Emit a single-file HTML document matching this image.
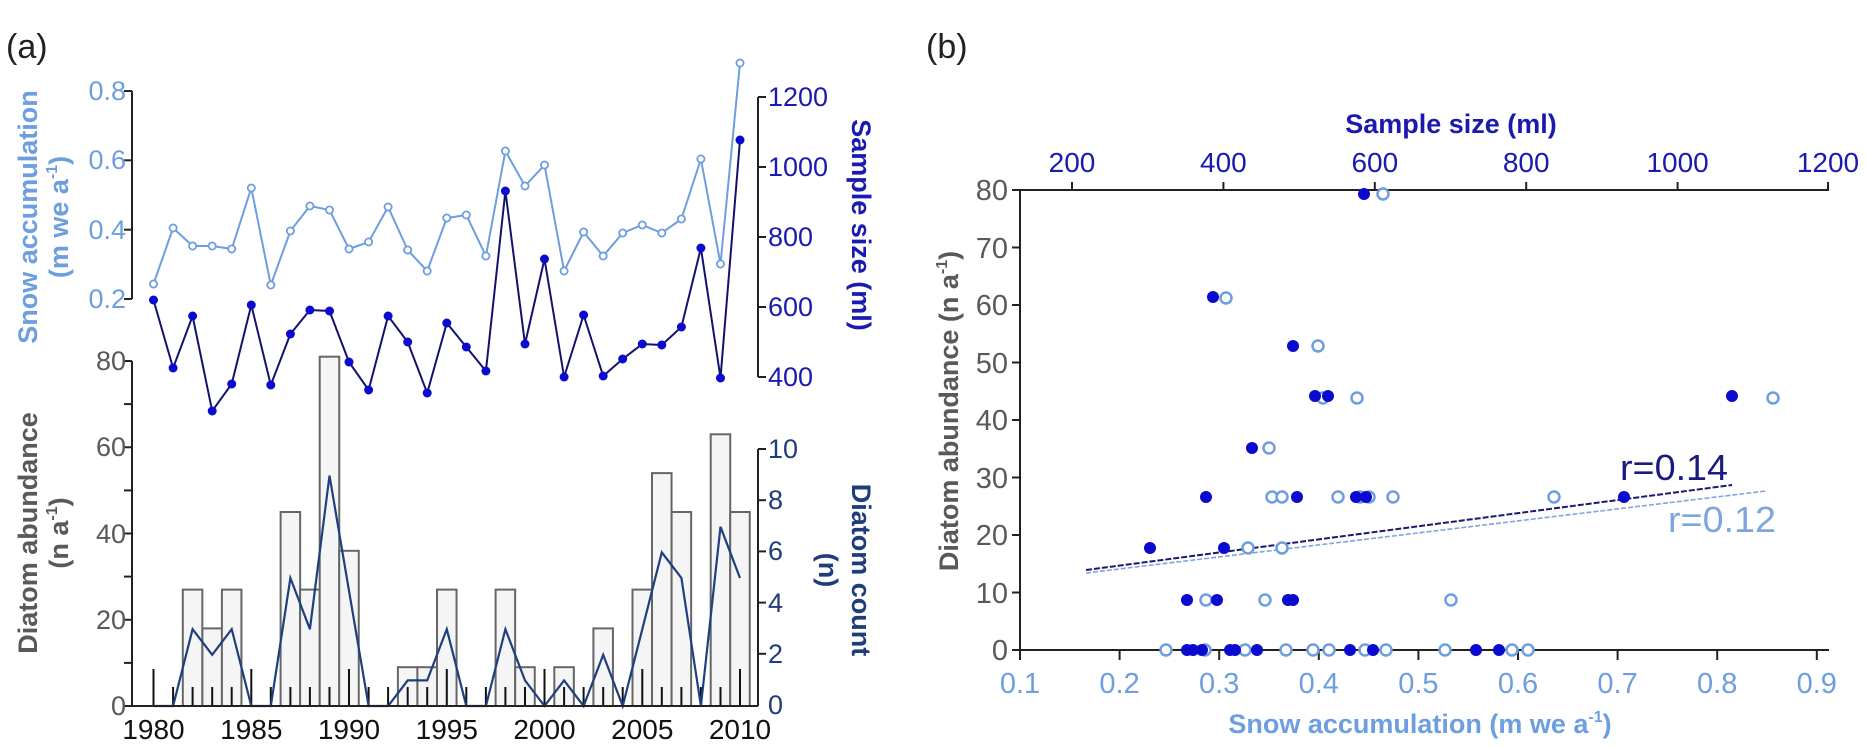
<!DOCTYPE html>
<html><head><meta charset="utf-8"><style>
html,body{margin:0;padding:0;background:#fff}
svg{display:block}
text{font-family:"Liberation Sans",sans-serif}
</style></head><body>
<svg width="1866" height="748" viewBox="0 0 1866 748" xmlns="http://www.w3.org/2000/svg">
<rect width="1866" height="748" fill="#fff"/>
<text x="6" y="58" font-size="34" fill="#222">(a)</text>
<text x="926" y="58" font-size="34" fill="#222">(b)</text>

<g fill="#f5f5f5" stroke="#666" stroke-width="2">
<rect x="182.8" y="589.6" width="19.55" height="116.4"/>
<rect x="202.4" y="628.4" width="19.55" height="77.6"/>
<rect x="221.9" y="589.6" width="19.55" height="116.4"/>
<rect x="280.6" y="512" width="19.55" height="194"/>
<rect x="300.1" y="589.6" width="19.55" height="116.4"/>
<rect x="319.7" y="356.7" width="19.55" height="349.3"/>
<rect x="339.2" y="550.8" width="19.55" height="155.2"/>
<rect x="397.9" y="667.2" width="19.55" height="38.8"/>
<rect x="417.4" y="667.2" width="19.55" height="38.8"/>
<rect x="437.0" y="589.6" width="19.55" height="116.4"/>
<rect x="495.6" y="589.6" width="19.55" height="116.4"/>
<rect x="515.2" y="667.2" width="19.55" height="38.8"/>
<rect x="554.3" y="667.2" width="19.55" height="38.8"/>
<rect x="593.4" y="628.4" width="19.55" height="77.6"/>
<rect x="632.5" y="589.6" width="19.55" height="116.4"/>
<rect x="652.0" y="473.1" width="19.55" height="232.9"/>
<rect x="671.6" y="512" width="19.55" height="194"/>
<rect x="710.7" y="434.3" width="19.55" height="271.7"/>
<rect x="730.2" y="512" width="19.55" height="194"/>
</g>
<g stroke="#111" stroke-width="2">
<line x1="153.5" y1="706" x2="153.5" y2="669"/><line x1="173.1" y1="706" x2="173.1" y2="687"/><line x1="192.6" y1="706" x2="192.6" y2="687"/><line x1="212.2" y1="706" x2="212.2" y2="687"/><line x1="231.7" y1="706" x2="231.7" y2="687"/>
<line x1="251.3" y1="706" x2="251.3" y2="669"/><line x1="270.8" y1="706" x2="270.8" y2="687"/><line x1="290.4" y1="706" x2="290.4" y2="687"/><line x1="309.9" y1="706" x2="309.9" y2="687"/><line x1="329.5" y1="706" x2="329.5" y2="687"/>
<line x1="349.0" y1="706" x2="349.0" y2="669"/><line x1="368.6" y1="706" x2="368.6" y2="687"/><line x1="388.1" y1="706" x2="388.1" y2="687"/><line x1="407.7" y1="706" x2="407.7" y2="687"/><line x1="427.2" y1="706" x2="427.2" y2="687"/>
<line x1="446.8" y1="706" x2="446.8" y2="669"/><line x1="466.3" y1="706" x2="466.3" y2="687"/><line x1="485.9" y1="706" x2="485.9" y2="687"/><line x1="505.4" y1="706" x2="505.4" y2="687"/><line x1="525.0" y1="706" x2="525.0" y2="687"/>
<line x1="544.5" y1="706" x2="544.5" y2="669"/><line x1="564.1" y1="706" x2="564.1" y2="687"/><line x1="583.6" y1="706" x2="583.6" y2="687"/><line x1="603.2" y1="706" x2="603.2" y2="687"/><line x1="622.7" y1="706" x2="622.7" y2="687"/>
<line x1="642.3" y1="706" x2="642.3" y2="669"/><line x1="661.8" y1="706" x2="661.8" y2="687"/><line x1="681.4" y1="706" x2="681.4" y2="687"/><line x1="700.9" y1="706" x2="700.9" y2="687"/><line x1="720.5" y1="706" x2="720.5" y2="687"/>
<line x1="740.0" y1="706" x2="740.0" y2="669"/>
</g>
<polyline fill="none" stroke="#1f3f7f" stroke-width="2.2" points="153.5,706 173.1,706 192.6,629.2 212.2,654.8 231.7,629.2 251.3,706 270.8,706 290.4,578 309.9,629.2 329.5,475.6 349.0,590.8 368.6,706 388.1,706 407.7,680.4 427.2,680.4 446.8,629.2 466.3,706 485.9,706 505.4,629.2 525.0,680.4 544.5,706 564.1,680.4 583.6,706 603.2,654.8 622.7,706 642.3,629.2 661.8,552.4 681.4,578 700.9,706 720.5,526.8 740.0,578"/>

<g stroke="#222" stroke-width="2" fill="none">
<line x1="132" y1="706" x2="758" y2="706"/>
<line x1="132" y1="361" x2="132" y2="706"/>
<line x1="132" y1="91" x2="132" y2="299"/>
<line x1="758" y1="97" x2="758" y2="377"/>
<line x1="758" y1="449" x2="758" y2="706"/>
<line x1="124" y1="706" x2="132" y2="706"/><line x1="124" y1="662.9" x2="132" y2="662.9"/><line x1="124" y1="619.75" x2="132" y2="619.75"/><line x1="124" y1="576.6" x2="132" y2="576.6"/><line x1="124" y1="533.5" x2="132" y2="533.5"/><line x1="124" y1="490.4" x2="132" y2="490.4"/><line x1="124" y1="447.25" x2="132" y2="447.25"/><line x1="124" y1="404.1" x2="132" y2="404.1"/><line x1="124" y1="361" x2="132" y2="361"/>
<line x1="124" y1="91" x2="132" y2="91"/><line x1="124" y1="160.3" x2="132" y2="160.3"/><line x1="124" y1="229.7" x2="132" y2="229.7"/><line x1="124" y1="299" x2="132" y2="299"/>
<line x1="758" y1="97" x2="766" y2="97"/><line x1="758" y1="167" x2="766" y2="167"/><line x1="758" y1="237" x2="766" y2="237"/><line x1="758" y1="307" x2="766" y2="307"/><line x1="758" y1="377" x2="766" y2="377"/>
<line x1="758" y1="449" x2="766" y2="449"/><line x1="758" y1="500.2" x2="766" y2="500.2"/><line x1="758" y1="551.4" x2="766" y2="551.4"/><line x1="758" y1="602.6" x2="766" y2="602.6"/><line x1="758" y1="653.8" x2="766" y2="653.8"/>
</g>

<polyline fill="none" stroke="#6d9ee0" stroke-width="2" points="153.5,284 173.1,228 192.6,246 212.2,246 231.7,249 251.3,188 270.8,285 290.4,231 309.9,206 329.5,210 349.0,249 368.6,242 388.1,207 407.7,250 427.2,271 446.8,218 466.3,215 485.9,256 505.4,151 525.0,186 544.5,165 564.1,271 583.6,232 603.2,256 622.7,233 642.3,225 661.8,233 681.4,219 700.9,159 720.5,264 740.0,63"/>
<g fill="#fff" stroke="#6d9ee0" stroke-width="1.8">
<circle cx="153.5" cy="284" r="3.6"/><circle cx="173.1" cy="228" r="3.6"/><circle cx="192.6" cy="246" r="3.6"/><circle cx="212.2" cy="246" r="3.6"/><circle cx="231.7" cy="249" r="3.6"/><circle cx="251.3" cy="188" r="3.6"/><circle cx="270.8" cy="285" r="3.6"/><circle cx="290.4" cy="231" r="3.6"/><circle cx="309.9" cy="206" r="3.6"/><circle cx="329.5" cy="210" r="3.6"/><circle cx="349.0" cy="249" r="3.6"/><circle cx="368.6" cy="242" r="3.6"/><circle cx="388.1" cy="207" r="3.6"/><circle cx="407.7" cy="250" r="3.6"/><circle cx="427.2" cy="271" r="3.6"/><circle cx="446.8" cy="218" r="3.6"/><circle cx="466.3" cy="215" r="3.6"/><circle cx="485.9" cy="256" r="3.6"/><circle cx="505.4" cy="151" r="3.6"/><circle cx="525.0" cy="186" r="3.6"/><circle cx="544.5" cy="165" r="3.6"/><circle cx="564.1" cy="271" r="3.6"/><circle cx="583.6" cy="232" r="3.6"/><circle cx="603.2" cy="256" r="3.6"/><circle cx="622.7" cy="233" r="3.6"/><circle cx="642.3" cy="225" r="3.6"/><circle cx="661.8" cy="233" r="3.6"/><circle cx="681.4" cy="219" r="3.6"/><circle cx="700.9" cy="159" r="3.6"/><circle cx="720.5" cy="264" r="3.6"/><circle cx="740.0" cy="63" r="3.6"/>
</g>
<polyline fill="none" stroke="#12126e" stroke-width="2" points="153.5,300 173.1,368 192.6,316 212.2,411 231.7,384 251.3,305 270.8,385 290.4,334 309.9,310 329.5,311 349.0,362 368.6,390 388.1,316 407.7,342 427.2,393 446.8,323 466.3,347 485.9,371 505.4,191 525.0,344 544.5,259 564.1,377 583.6,315 603.2,376 622.7,359 642.3,344 661.8,345 681.4,327 700.9,248 720.5,378 740.0,140"/>
<g fill="#0b0bd0">
<circle cx="153.5" cy="300" r="4.5"/><circle cx="173.1" cy="368" r="4.5"/><circle cx="192.6" cy="316" r="4.5"/><circle cx="212.2" cy="411" r="4.5"/><circle cx="231.7" cy="384" r="4.5"/><circle cx="251.3" cy="305" r="4.5"/><circle cx="270.8" cy="385" r="4.5"/><circle cx="290.4" cy="334" r="4.5"/><circle cx="309.9" cy="310" r="4.5"/><circle cx="329.5" cy="311" r="4.5"/><circle cx="349.0" cy="362" r="4.5"/><circle cx="368.6" cy="390" r="4.5"/><circle cx="388.1" cy="316" r="4.5"/><circle cx="407.7" cy="342" r="4.5"/><circle cx="427.2" cy="393" r="4.5"/><circle cx="446.8" cy="323" r="4.5"/><circle cx="466.3" cy="347" r="4.5"/><circle cx="485.9" cy="371" r="4.5"/><circle cx="505.4" cy="191" r="4.5"/><circle cx="525.0" cy="344" r="4.5"/><circle cx="544.5" cy="259" r="4.5"/><circle cx="564.1" cy="377" r="4.5"/><circle cx="583.6" cy="315" r="4.5"/><circle cx="603.2" cy="376" r="4.5"/><circle cx="622.7" cy="359" r="4.5"/><circle cx="642.3" cy="344" r="4.5"/><circle cx="661.8" cy="345" r="4.5"/><circle cx="681.4" cy="327" r="4.5"/><circle cx="700.9" cy="248" r="4.5"/><circle cx="720.5" cy="378" r="4.5"/><circle cx="740.0" cy="140" r="4.5"/>
</g>

<g font-size="27" fill="#595959" text-anchor="end">
<text x="126" y="715">0</text><text x="126" y="629">20</text><text x="126" y="543">40</text><text x="126" y="456">60</text><text x="126" y="370">80</text>
</g>
<g font-size="27" fill="#6d9ee0" text-anchor="end">
<text x="126" y="100">0.8</text><text x="126" y="169">0.6</text><text x="126" y="239">0.4</text><text x="126" y="308">0.2</text>
</g>
<g font-size="27" fill="#1a1ab0">
<text x="768" y="106">1200</text><text x="768" y="176">1000</text><text x="768" y="246">800</text><text x="768" y="316">600</text><text x="768" y="386">400</text>
</g>
<g font-size="27" fill="#1f3d7a">
<text x="768" y="458">10</text><text x="768" y="509">8</text><text x="768" y="560">6</text><text x="768" y="612">4</text><text x="768" y="663">2</text><text x="768" y="714">0</text>
</g>
<g font-size="28" fill="#111" text-anchor="middle">
<text x="153.5" y="739">1980</text><text x="251.3" y="739">1985</text><text x="349" y="739">1990</text><text x="446.8" y="739">1995</text><text x="544.5" y="739">2000</text><text x="642.3" y="739">2005</text><text x="740" y="739">2010</text>
</g>
<g font-size="27" font-weight="bold" text-anchor="middle">
<text transform="translate(37,217) rotate(-90)" fill="#6d9ee0">Snow accumulation</text>
<text transform="translate(68,217) rotate(-90)" fill="#6d9ee0">(m we a<tspan font-size="16" dy="-11">-1</tspan><tspan dy="11">)</tspan></text>
<text transform="translate(37,533) rotate(-90)" fill="#595959">Diatom abundance</text>
<text transform="translate(68,533) rotate(-90)" fill="#595959">(n a<tspan font-size="16" dy="-11">-1</tspan><tspan dy="11">)</tspan></text>
<text transform="translate(852,225) rotate(90)" fill="#1a1ab0">Sample size (ml)</text>
<text transform="translate(852,570) rotate(90)" fill="#1f3d7a">Diatom count</text>
<text transform="translate(819,570) rotate(90)" fill="#1f3d7a">(n)</text>
</g>

<g stroke="#222" stroke-width="2" fill="none">
<line x1="1020" y1="190" x2="1829" y2="190"/>
<line x1="1020" y1="650" x2="1829" y2="650"/>
<line x1="1020" y1="190" x2="1020" y2="650"/>
<line x1="1012" y1="190" x2="1020" y2="190"/><line x1="1012" y1="247.5" x2="1020" y2="247.5"/><line x1="1012" y1="305" x2="1020" y2="305"/><line x1="1012" y1="362.5" x2="1020" y2="362.5"/><line x1="1012" y1="420" x2="1020" y2="420"/><line x1="1012" y1="477.5" x2="1020" y2="477.5"/><line x1="1012" y1="535" x2="1020" y2="535"/><line x1="1012" y1="592.5" x2="1020" y2="592.5"/><line x1="1012" y1="650" x2="1020" y2="650"/>
<line x1="1072" y1="182" x2="1072" y2="190"/><line x1="1223.4" y1="182" x2="1223.4" y2="190"/><line x1="1374.8" y1="182" x2="1374.8" y2="190"/><line x1="1526.2" y1="182" x2="1526.2" y2="190"/><line x1="1677.6" y1="182" x2="1677.6" y2="190"/><line x1="1828" y1="182" x2="1828" y2="190"/>
<line x1="1020" y1="650" x2="1020" y2="660"/><line x1="1119.6" y1="650" x2="1119.6" y2="660"/><line x1="1219.2" y1="650" x2="1219.2" y2="660"/><line x1="1318.8" y1="650" x2="1318.8" y2="660"/><line x1="1418.4" y1="650" x2="1418.4" y2="660"/><line x1="1518" y1="650" x2="1518" y2="660"/><line x1="1617.6" y1="650" x2="1617.6" y2="660"/><line x1="1717.2" y1="650" x2="1717.2" y2="660"/><line x1="1816.8" y1="650" x2="1816.8" y2="660"/>
</g>
<line x1="1086" y1="570" x2="1732" y2="485" stroke="#1a1a70" stroke-width="2" stroke-dasharray="6,2"/>
<line x1="1086" y1="573" x2="1766" y2="491" stroke="#7fa6dc" stroke-width="1.6" stroke-dasharray="5,2"/>
<g fill="#fff" stroke="#6d9ee0" stroke-width="2.5">
<circle cx="1383" cy="194" r="5.5"/><circle cx="1226" cy="298" r="5.5"/><circle cx="1318" cy="346" r="5.5"/><circle cx="1323" cy="398" r="5.5"/><circle cx="1357" cy="398" r="5.5"/><circle cx="1773" cy="398" r="5.5"/><circle cx="1269" cy="448" r="5.5"/><circle cx="1272" cy="497" r="5.5"/><circle cx="1282" cy="497" r="5.5"/><circle cx="1338" cy="497" r="5.5"/><circle cx="1360" cy="497" r="5.5"/><circle cx="1369" cy="497" r="5.5"/><circle cx="1393" cy="497" r="5.5"/><circle cx="1554" cy="497" r="5.5"/><circle cx="1248" cy="548" r="5.5"/><circle cx="1282" cy="548" r="5.5"/><circle cx="1206" cy="600" r="5.5"/><circle cx="1265" cy="600" r="5.5"/><circle cx="1451" cy="600" r="5.5"/>
<circle cx="1166" cy="650" r="5.5"/><circle cx="1205" cy="650" r="5.5"/><circle cx="1245" cy="650" r="5.5"/><circle cx="1286" cy="650" r="5.5"/><circle cx="1313" cy="650" r="5.5"/><circle cx="1329" cy="650" r="5.5"/><circle cx="1365" cy="650" r="5.5"/><circle cx="1386" cy="650" r="5.5"/><circle cx="1445" cy="650" r="5.5"/><circle cx="1512" cy="650" r="5.5"/><circle cx="1528" cy="650" r="5.5"/>
</g>
<g fill="#0b0bd0">
<circle cx="1364" cy="194" r="6"/><circle cx="1213" cy="297" r="6"/><circle cx="1293" cy="346" r="6"/><circle cx="1315" cy="396" r="6"/><circle cx="1328" cy="396" r="6"/><circle cx="1252" cy="448" r="6"/><circle cx="1206" cy="497" r="6"/><circle cx="1297" cy="497" r="6"/><circle cx="1356" cy="497" r="6"/><circle cx="1366" cy="497" r="6"/><circle cx="1624" cy="497" r="6"/><circle cx="1732" cy="396" r="6"/><circle cx="1150" cy="548" r="6"/><circle cx="1224" cy="548" r="6"/><circle cx="1187" cy="600" r="6"/><circle cx="1217" cy="600" r="6"/><circle cx="1288" cy="600" r="6"/><circle cx="1293" cy="600" r="6"/>
<circle cx="1187" cy="650" r="6"/><circle cx="1193" cy="650" r="6"/><circle cx="1202" cy="650" r="6"/><circle cx="1230" cy="650" r="6"/><circle cx="1235" cy="650" r="6"/><circle cx="1257" cy="650" r="6"/><circle cx="1350" cy="650" r="6"/><circle cx="1373" cy="650" r="6"/><circle cx="1476" cy="650" r="6"/><circle cx="1499" cy="650" r="6"/>
</g>
<text x="1620" y="480" font-size="36" fill="#1a1a80" textLength="108" lengthAdjust="spacingAndGlyphs">r=0.14</text>
<text x="1668" y="532" font-size="36" fill="#7fa6dc" textLength="108" lengthAdjust="spacingAndGlyphs">r=0.12</text>
<g font-size="29" fill="#595959" text-anchor="end">
<text x="1008" y="200">80</text><text x="1008" y="258">70</text><text x="1008" y="315">60</text><text x="1008" y="373">50</text><text x="1008" y="430">40</text><text x="1008" y="488">30</text><text x="1008" y="545">20</text><text x="1008" y="603">10</text><text x="1008" y="660">0</text>
</g>
<g font-size="28" fill="#1a1ab0" text-anchor="middle">
<text x="1072" y="172">200</text><text x="1223.4" y="172">400</text><text x="1374.8" y="172">600</text><text x="1526.2" y="172">800</text><text x="1677.6" y="172">1000</text><text x="1828" y="172">1200</text>
</g>
<g font-size="29" fill="#6d9ee0" text-anchor="middle">
<text x="1020" y="693">0.1</text><text x="1119.6" y="693">0.2</text><text x="1219.2" y="693">0.3</text><text x="1318.8" y="693">0.4</text><text x="1418.4" y="693">0.5</text><text x="1518" y="693">0.6</text><text x="1617.6" y="693">0.7</text><text x="1717.2" y="693">0.8</text><text x="1816.8" y="693">0.9</text>
</g>
<g font-size="27" font-weight="bold" text-anchor="middle">
<text x="1451" y="133" fill="#1a1ab0">Sample size (ml)</text>
<text x="1420" y="733" fill="#6d9ee0">Snow accumulation (m we a<tspan font-size="16" dy="-11">-1</tspan><tspan dy="11">)</tspan></text>
<text transform="translate(958,411) rotate(-90)" fill="#595959">Diatom abundance (n a<tspan font-size="16" dy="-11">-1</tspan><tspan dy="11">)</tspan></text>
</g>
</svg>
</body></html>
